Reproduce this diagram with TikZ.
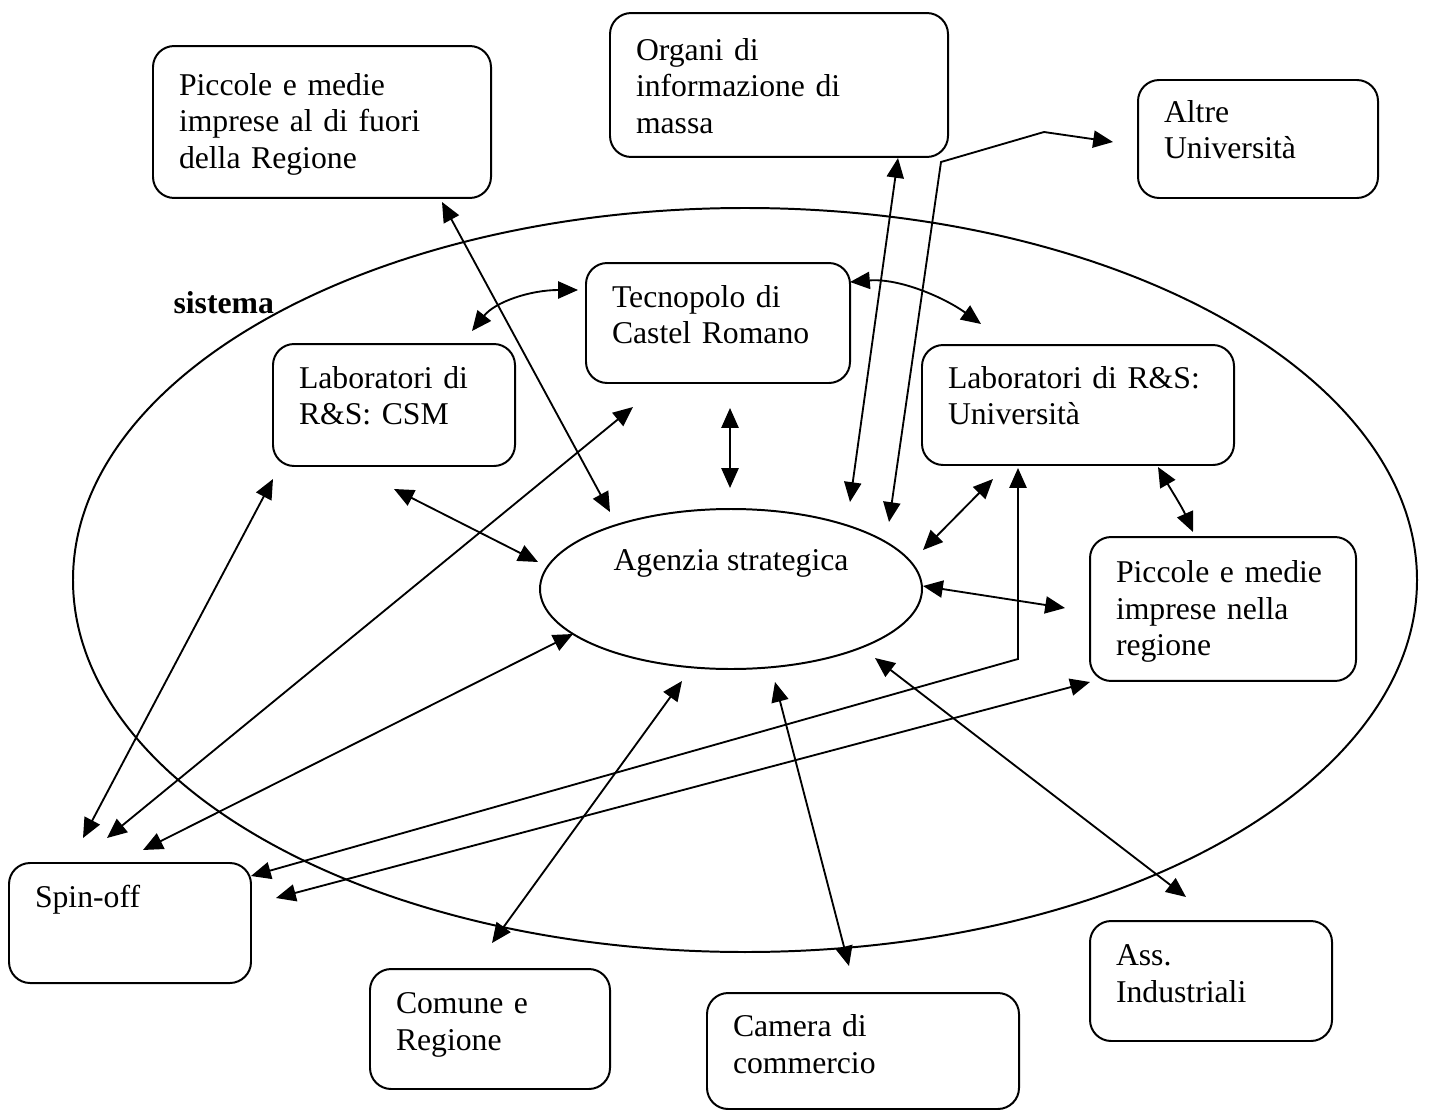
\documentclass[tikz,border=0pt]{standalone}
\usepackage{fontspec}
\setmainfont{Liberation Serif}
\usetikzlibrary{calc, arrows.meta, shapes.geometric}

% one unit = one pixel of the sketch
\tikzset{
  box/.style n args={3}{draw, rounded corners=8pt, line width=0.75pt,
    inner xsep=0.346cm, inner ysep=0pt, align=left,
    /utils/exec={\pgfmathsetlengthmacro\boxwidth{(#1-52)*0.0133cm}},
    text width=\boxwidth,
    execute at begin node={\rule{0pt}{\dimexpr0.0133cm*#2\relax}},
    execute at end node={\rule[-\dimexpr0.0133cm*#3\relax]{0pt}{0pt}}},
  link/.style={<->, line width=0.7pt},
}

\begin{document}
\begin{tikzpicture}[x=0.0133cm, y=-0.0133cm, font=\fontsize{12}{14}\selectfont,
    >={Triangle[length=7.5pt, width=6.5pt]}]
  \useasboundingbox (0, 0) rectangle (1431, 1111);

  \draw[line width=0.75pt] (745, 580) ellipse [x radius=672, y radius=372];
  \node[font=\fontsize{12}{14}\selectfont\bfseries, anchor=base west, inner sep=0pt]
    (sistema) at (173, 313) {sistema};

  \node[draw, ellipse, line width=0.75pt, inner sep=0pt,
    minimum width=382*0.0133cm, minimum height=160*0.0133cm,
    text height=8pt, text depth=22pt] (agenzia) at (731, 589) {Agenzia strategica};

  \node[box={338}{49}{29}] (fuori)  at (322, 122)  {Piccole e medie\\imprese al di fuori\\della Regione};
  \node[box={338}{47}{23}] (organi) at (779, 85)   {Organi di\\informazione di\\massa};
  \node[box={240}{42}{39}] (altre)  at (1258, 139) {Altre\\Università};
  \node[box={264}{44}{39}] (tecno)  at (718, 323)  {Tecnopolo di\\Castel Romano};
  \node[box={242}{44}{41}] (csm)    at (394, 405)  {Laboratori di\\R\&S: CSM};
  \node[box={312}{43}{40}] (univ)   at (1078, 405) {Laboratori di R\&S:\\Università};
  \node[box={266}{45}{25}] (pmireg) at (1223, 609) {Piccole e medie\\imprese nella\\regione};
  \node[box={242}{44}{76}] (spin)   at (130, 923)  {Spin-off};
  \node[box={240}{44}{39}] (comune) at (490, 1029) {Comune e\\Regione};
  \node[box={312}{43}{36}] (camera) at (863, 1051) {Camera di\\commercio};
  \node[box={242}{44}{39}] (ass)    at (1211, 981) {Ass.\\Industriali};

  % links to the agency
  \draw[link] ($(fuori)+(120, 80)$) -- ($(agenzia)+(-121, -77)$);
  \draw[link] ($(organi)+(119, 73)$) -- ($(agenzia)+(119, -87)$);
  \draw[link] ($(agenzia)+(158, -67)$) -- (941, 162) -- (1044, 132) -- ($(altre)+(-145, 3)$);
  \draw[link] ($(tecno)+(12, 85)$) -- ($(agenzia)+(-1, -101)$);
  \draw[link] ($(csm)+(0, 84)$) -- ($(agenzia)+(-193, -27)$);
  \draw[link] ($(univ)+(-85, 74)$) -- ($(agenzia)+(192, -39)$);
  \draw[link] ($(agenzia)+(192, -3)$) -- ($(pmireg)+(-158, -1)$);
  \draw[link] ($(comune)+(2, -86)$) -- ($(agenzia)+(-49, 92)$);
  \draw[link] ($(camera)+(-14, -85)$) -- ($(agenzia)+(44, 93)$);
  \draw[link] ($(ass)+(-25, -84)$) -- ($(agenzia)+(144, 69)$);

  % curved links between the labs
  \draw[link] ($(csm)+(78, -74)$) .. controls (495, 302) and (530, 290) .. ($(tecno)+(-140, -33)$);
  \draw[link] ($(tecno)+(132, -41)$) .. controls (900, 278) and (945, 298) .. ($(univ)+(-97, -81)$);
  \draw[link] ($(univ)+(80, 62)$) .. controls (1170, 488) and (1182, 507) .. ($(pmireg)+(-30, -77)$);

  % spin-off
  \draw[link] ($(spin)+(-47, -85)$) -- ($(csm)+(-121, 74)$);
  \draw[link] ($(spin)+(-23, -85)$) -- ($(tecno)+(-85, 84)$);
  \draw[link] ($(spin)+(13, -73)$) -- ($(agenzia)+(-158, 45)$);
  \draw[link] ($(spin)+(121, -47)$) -- (1018, 659) -- ($(univ)+(-60, 63)$);
  \draw[link] ($(spin)+(146, -25)$) -- ($(pmireg)+(-133, 73)$);

\end{tikzpicture}
\end{document}
